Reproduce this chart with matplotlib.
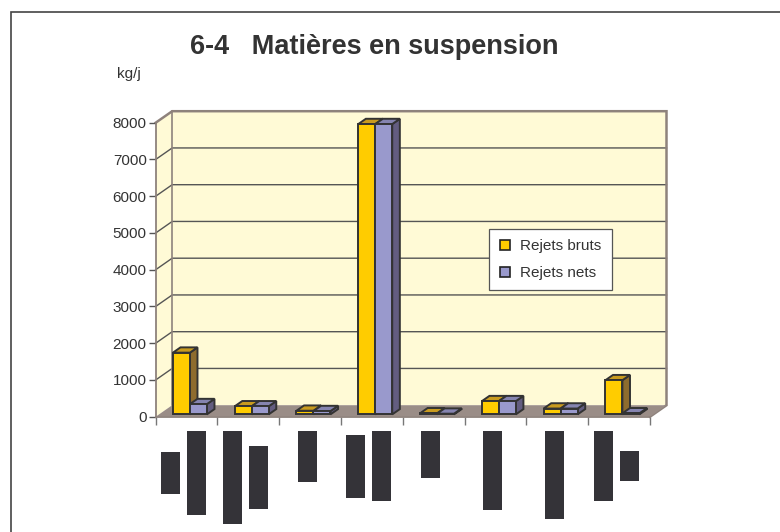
import matplotlib
matplotlib.use('Agg')
import matplotlib.pyplot as plt
from matplotlib.patches import Polygon, Rectangle
from matplotlib.lines import Line2D

plt.rcParams['font.family'] = ['Liberation Sans', 'DejaVu Sans']

# Données (kg/j)
categories = 8
rejets_bruts = [1680, 220, 100, 7900, 30, 360, 160, 930]
rejets_nets = [280, 220, 90, 7900, 20, 360, 160, 30]
series_noms = ['Rejets bruts', 'Rejets nets']
yticks = list(range(0, 8001, 1000))

# libellés des catégories illisibles (blocs sombres), longueurs des lignes en px
libelles_blocs = [[42, 84], [93, 63], [51], [63, 70], [47], [79], [88], [70, 30]]

W, H = 780, 532
fig = plt.figure(figsize=(W / 100, H / 100), dpi=100)
ax = fig.add_axes([155.7 / W, 115.3 / H, 494.3 / W, 294 / H])
ax.set_xlim(0, categories)
ax.set_ylim(0, 8000)
ax.patch.set_visible(False)

# decalage de profondeur (effet 3D) en unites de donnees
DX = 16.5 / (494.3 / categories)
DY = 11.5 / (294 / 8000)


def proj(x, y, d):
    return (x + d * DX, y + d * DY)


creme = '#FFFAD6'
bord = '#8E827C'

# murs et sol
ymax = yticks[-1]
ax.add_patch(Polygon([proj(0, 0, 1), proj(categories, 0, 1), proj(categories, ymax, 1), proj(0, ymax, 1)],
                     closed=True, facecolor=creme, edgecolor='none', zorder=0.5, clip_on=False))
ax.add_patch(Polygon([proj(0, 0, 0), proj(0, 0, 1), proj(0, ymax, 1), proj(0, ymax, 0)],
                     closed=True, facecolor=creme, edgecolor='none', zorder=0.5, clip_on=False))
ax.add_patch(Polygon([proj(0, 0, 0), proj(categories, 0, 0), proj(categories, 0, 1), proj(0, 0, 1)],
                     closed=True, facecolor='#9A8D87', edgecolor='none', zorder=1, clip_on=False))

# quadrillage
for v in yticks[1:-1]:
    xs, ys = zip(proj(0, v, 0), proj(0, v, 1), proj(categories, v, 1))
    ax.plot(xs, ys, color='#555555', lw=1, zorder=0.8, clip_on=False)

# contours des murs
xs, ys = zip(proj(0, ymax, 0), proj(0, ymax, 1), proj(categories, ymax, 1), proj(categories, 0, 1), proj(categories, 0, 0))
ax.plot(xs, ys, color=bord, lw=1.8, zorder=0.9, clip_on=False, solid_joinstyle='miter')
xs, ys = zip(proj(0, 0, 1), proj(0, ymax, 1))
ax.plot(xs, ys, color=bord, lw=1.2, zorder=0.9, clip_on=False)

# barres 3D
d0, d1 = 0.2, 0.66
larg = 0.275
styles = [('#FFCC00', '#C99B1F', '#8E6C2E'), ('#9999CC', '#8584B0', '#635D80')]
for i in range(categories):
    for k, vals in enumerate([rejets_bruts, rejets_nets]):
        v = vals[i]
        x0 = i + 0.5 - larg + k * larg
        x1 = x0 + larg
        face, dessus, cote = styles[k]
        z = 3 + i * 0.1 + k * 0.01
        kw = dict(closed=True, edgecolor='#333333', lw=1.4, clip_on=False, zorder=z, joinstyle='miter')
        ax.add_patch(Polygon([proj(x1, 0, d0), proj(x1, 0, d1), proj(x1, v, d1), proj(x1, v, d0)], facecolor=cote, **kw))
        ax.add_patch(Polygon([proj(x0, v, d0), proj(x1, v, d0), proj(x1, v, d1), proj(x0, v, d1)], facecolor=dessus, **kw))
        ax.add_patch(Polygon([proj(x0, 0, d0), proj(x1, 0, d0), proj(x1, v, d0), proj(x0, v, d0)], facecolor=face, **kw))

# axes
for s in ['top', 'right']:
    ax.spines[s].set_visible(False)
for s in ['left', 'bottom']:
    ax.spines[s].set_color(bord)
    ax.spines[s].set_linewidth(1.3)
    ax.spines[s].set_zorder(2)
ax.set_yticks(yticks)
ax.set_xticks(range(categories + 1))
ax.set_xticklabels([])
ax.tick_params(axis='y', length=5, width=1, color='#555555', pad=1.5, labelsize=11, labelcolor='#333333')
ax.tick_params(axis='x', length=5.5, width=1, color='#777777')

# blocs des libelles de categories
fig.canvas.draw()
for i, lignes in enumerate(libelles_blocs):
    cx = ax.transData.transform((i + 0.5, 0))[0] - 3
    L = max(lignes)
    n = len(lignes)
    for j, lg in enumerate(lignes):
        xc = cx + (j - (n - 1) / 2) * 26
        top = 431 + (L - lg) / 2
        fig.add_artist(Rectangle(((xc - 9.5) / W, 1 - (top + lg) / H), 19 / W, lg / H,
                                 transform=fig.transFigure, facecolor='#343338', edgecolor='none'))

# legende
poignees = [Line2D([], [], ls='none', marker='s', markersize=6.5, markerfacecolor=c[0],
                   markeredgecolor='#222222', markeredgewidth=1.2) for c in styles]
leg = ax.legend(poignees, series_noms, loc='upper left', bbox_to_anchor=(489 / W, 1 - 229.3 / H),
                bbox_transform=fig.transFigure, fancybox=False, framealpha=1, edgecolor='#555555',
                fontsize=11, labelspacing=0.85, handlelength=0.8, handletextpad=0.6, borderpad=0.65,
                borderaxespad=0)
leg.get_frame().set_linewidth(0.9)
leg.set_zorder(10)
for t in leg.get_texts():
    t.set_color('#333333')

# titre et unite
fig.text(374.5 / W, 1 - 54.3 / H, '6-4   Matières en suspension', ha='center', va='baseline',
         fontsize=19.5, fontweight='bold', color='#333333')
fig.text(129 / W, 1 - 78.3 / H, 'kg/j', ha='center', va='baseline', fontsize=11, color='#333333')

# cadre exterieur
fig.add_artist(Rectangle((10.8 / W, -0.05), 1.1, 1 - 11.5 / H + 0.05, transform=fig.transFigure,
                         facecolor='none', edgecolor='#444444', lw=1.2))

fig.savefig('out.png', dpi=100)
